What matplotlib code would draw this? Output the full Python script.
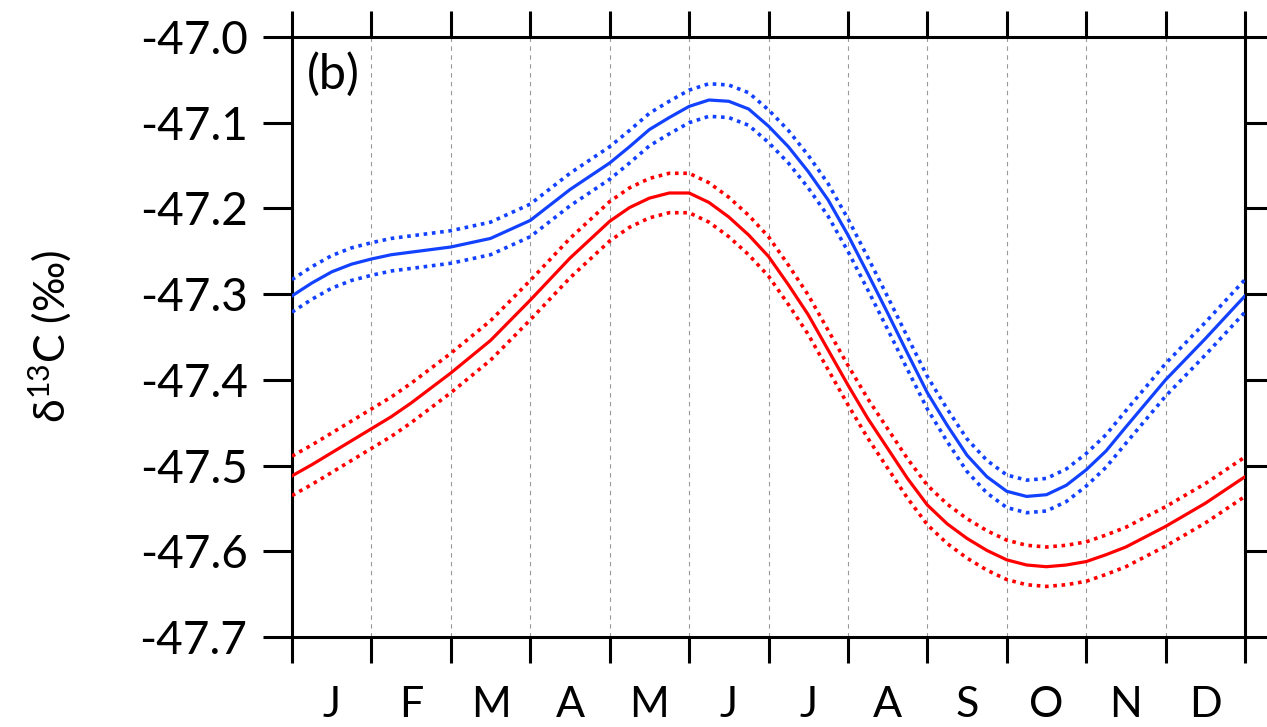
import numpy as np
import matplotlib
matplotlib.use("Agg")
import matplotlib.pyplot as plt

# ---- data ----
months = ["J", "F", "M", "A", "M", "J", "J", "A", "S", "O", "N", "D"]
x_time = [0, 0.25, 0.5, 0.75, 1, 1.25, 1.5, 2, 2.5, 3, 3.5, 4, 4.25, 4.5,
          4.75, 5, 5.25, 5.5, 5.75, 6, 6.25, 6.5, 6.75, 7, 7.25, 7.5, 7.75,
          8, 8.25, 8.5, 8.75, 9, 9.25, 9.5, 9.75, 10, 10.25, 10.5, 11, 11.5, 12]
blue_mean = [-47.302, -47.287, -47.274, -47.265, -47.259, -47.254, -47.251,
             -47.245, -47.235, -47.214, -47.178, -47.147, -47.128, -47.108,
             -47.094, -47.081, -47.0735, -47.075, -47.084, -47.104, -47.128,
             -47.157, -47.190, -47.231, -47.276, -47.322, -47.369, -47.415,
             -47.453, -47.488, -47.513, -47.530, -47.536, -47.534, -47.523,
             -47.505, -47.483, -47.455, -47.400, -47.352, -47.302]
blue_spread = [0.019] * len(x_time)
red_mean = [-47.512, -47.499, -47.485, -47.471, -47.457, -47.443, -47.427,
            -47.392, -47.354, -47.307, -47.258, -47.215, -47.199, -47.188,
            -47.182, -47.182, -47.193, -47.210, -47.231, -47.256, -47.289,
            -47.324, -47.365, -47.406, -47.445, -47.480, -47.515, -47.546,
            -47.568, -47.585, -47.599, -47.610, -47.616, -47.618, -47.616,
            -47.612, -47.604, -47.595, -47.571, -47.544, -47.513]
red_spread = [0.023] * len(x_time)
y_ticks = [-47.7, -47.6, -47.5, -47.4, -47.3, -47.2, -47.1, -47.0]
panel_label = "(b)"
y_label = r"δ$^{13}$C (‰)"

plt.rcParams["font.family"] = ["Lato", "DejaVu Sans"]
plt.rcParams["mathtext.default"] = "regular"

fig = plt.figure(figsize=(12.67, 7.27), dpi=100)
ax = fig.add_axes([292 / 1267, 1 - 637 / 727, (1245 - 292) / 1267, (637 - 37) / 727])

x = np.array(x_time)
BLUE = "#1242ff"
RED = "#ff0000"
for mean, spread, col in [(blue_mean, blue_spread, BLUE), (red_mean, red_spread, RED)]:
    m = np.array(mean)
    s = np.array(spread)
    ax.plot(x, m, color=col, lw=2.3, solid_joinstyle="round", zorder=3)
    for sign in (1, -1):
        ax.plot(x, m + sign * s, color=col, lw=2.6, linestyle=(0, (1, 1.3)),
                dash_capstyle="butt", zorder=3)

ax.set_xlim(0, 12)
ax.set_ylim(-47.7, -47.0)

# month boundaries: major ticks; month labels at midpoints (minor)
ax.set_xticks(np.arange(0, 13))
ax.set_xticklabels([])
ax.set_xticks(np.arange(0.5, 12), minor=True)
ax.set_xticklabels(months, minor=True)
ax.tick_params(axis="x", which="minor", length=0, pad=35, labelsize=31)
ax.tick_params(axis="x", which="major", direction="out", length=19, width=2.2,
               top=True, bottom=True)

ax.set_yticks(y_ticks)
ax.set_yticklabels([f"{v:.1f}" for v in y_ticks])
ax.tick_params(axis="y", which="major", direction="out", length=21, width=2.2,
               left=True, right=True, labelsize=33, pad=11)

for sp in ax.spines.values():
    sp.set_linewidth(2.2)

for xv in range(1, 12):
    ax.axvline(xv, color="#999999", lw=0.8, linestyle=(0, (4, 4)), zorder=1)

ax.text(0.016, 0.975, panel_label, transform=ax.transAxes, fontsize=35,
        va="top", ha="left")
fig.text(50 / 1267, 1 - 337 / 727, y_label, rotation=90, fontsize=31,
         va="center", ha="center")

fig.savefig("out.png", dpi=100)
